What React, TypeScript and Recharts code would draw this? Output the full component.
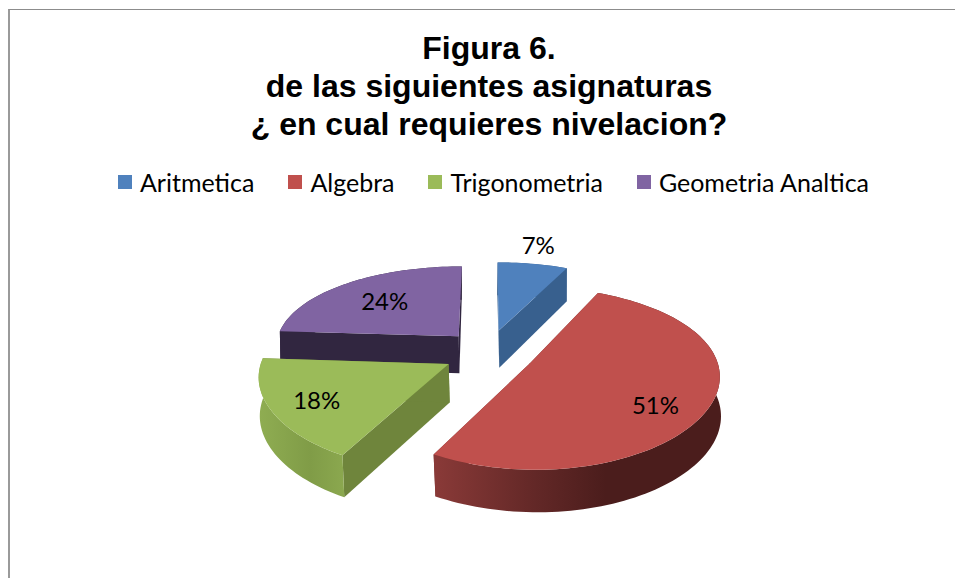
import React from "react";
import { PieChart, Pie, Cell } from "recharts";

const categories = ["Aritmetica", "Algebra", "Trigonometria", "Geometria Analtica"];
const values = [7, 51, 18, 24];
const topColors = ["#4F81BD", "#C0504D", "#9BBB59", "#8064A2"];
const wallColors = ["#38608E", "#7A3230", "#6F853C", "#312640"];
const titleLines = ["Figura 6.", "de las siguientes asignaturas", "¿ en cual requieres nivelacion?"];

const chartData = categories.map((name, i) => ({ name, value: values[i] }));

// 3D look of the pie: explosion and perspective, in units of the pie radius
const EXPLODE_X = 0.245;
const EXPLODE_Y = 0.27;
const PX = 0.12;
const PY = 0.16;
const BY = 85.7;
const DEPTH = 38;
const DEPTH_K = 4;
// fine placement of the data labels relative to their slice, in px
const labelNudge = [
  [-2, -5],
  [2, 11],
  [-10, 4],
  [6, 2],
];

type P = [number, number];

// project a point of a slice (angle clockwise from top, r in 0..1) onto the screen
function project(cx: number, cy: number, R: number, mid: number, theta: number, r: number, lower: boolean): P {
  const X = EXPLODE_X * Math.sin(mid) + Math.sin(theta) * r;
  const Y = EXPLODE_Y * Math.cos(mid) + Math.cos(theta) * r;
  const x = cx + (R * X) / (1 + PX * Y);
  const y = cy - (BY * Y) / (1 + PY * Y);
  return lower ? [x + (1 - Y) * 0.9, y + DEPTH - DEPTH_K * Y] : [x, y];
}

const rad = (a: number) => ((90 - a) * Math.PI) / 180;
const path = (pts: P[]) => "M" + pts.map((p) => `${p[0].toFixed(2)},${p[1].toFixed(2)}`).join("L") + "Z";

function Slice3D(props: any) {
  const { cx, cy, outerRadius, startAngle, endAngle, midAngle, name } = props;
  const idx = categories.indexOf(name);
  const mid = rad(midAngle);
  const t0 = rad(startAngle);
  const t1 = rad(endAngle);
  const steps = Math.max(4, Math.round(Math.abs(t1 - t0) / 0.03));
  const arc: number[] = [];
  for (let i = 0; i <= steps; i++) arc.push(t0 + ((t1 - t0) * i) / steps);
  const upper = arc.map((t) => project(cx, cy, outerRadius, mid, t, 1, false));
  const lower = arc.map((t) => project(cx, cy, outerRadius, mid, t, 1, true));
  const apex = project(cx, cy, outerRadius, mid, 0, 0, false);
  const apexLow = project(cx, cy, outerRadius, mid, 0, 0, true);
  const wall = wallColors[idx];
  return (
    <g>
      <path d={path([apex, upper[0], lower[0], apexLow])} fill={wall} />
      <path d={path([apex, upper[steps], lower[steps], apexLow])} fill={wall} />
      <path d={path([...upper, ...lower.slice().reverse()])} fill={`url(#side${idx})`} />
      <path d={path([apex, ...upper])} fill={topColors[idx]} />
    </g>
  );
}

const ShapeBack = (props: any) => (props.name === categories[3] ? <Slice3D {...props} /> : <g />);
const ShapeFront = (props: any) => (props.name !== categories[3] ? <Slice3D {...props} /> : <g />);

function SliceLabel(props: any) {
  const { cx, cy, midAngle, outerRadius, percent, name } = props;
  const mid = rad(midAngle);
  const [x, y] = project(cx, cy, outerRadius, mid, mid, percent < 0.1 ? 1.25 : 0.7, false);
  const [dx, dy] = labelNudge[categories.indexOf(name)] || [0, 0];
  return (
    <text x={x + dx} y={y + dy} textAnchor="middle" dominantBaseline="central" fontFamily="Lato" fontSize={24} fill="#000">
      {`${Math.round(percent * 100)}%`}
    </text>
  );
}

function LegendRow() {
  return (
    <div style={{ position: "absolute", top: 168, left: 0, width: 987, display: "flex", justifyContent: "center", gap: 34, fontFamily: "Lato", fontSize: 25, lineHeight: "28px", color: "#000", whiteSpace: "nowrap" }}>
      {categories.map((name, i) => (
        <div key={name} style={{ display: "flex", alignItems: "center" }}>
          <span style={{ width: 14, height: 14, background: topColors[i], marginRight: 8, display: "inline-block" }} />
          <span>{name}</span>
        </div>
      ))}
    </div>
  );
}

export default function App() {
  return (
    <div style={{ position: "absolute", left: 0, top: 0, width: 955, height: 578, background: "#fff", overflow: "hidden" }}>
      <div style={{ position: "absolute", left: 8, top: 9, width: 947, height: 569, borderTop: "1px solid #8c8c8c", borderLeft: "2px solid #9a9a9a", boxSizing: "border-box" }} />
      <PieChart width={955} height={578} style={{ position: "absolute", left: 0, top: 0 }} margin={{ top: 0, left: 0, right: 0, bottom: 0 }}>
        <defs>
          <linearGradient id="side0" x1="0" x2="1" y1="0" y2="0">
            <stop offset="0" stopColor="#38608E" />
            <stop offset="1" stopColor="#38608E" />
          </linearGradient>
          <linearGradient id="side1" x1="0" x2="1" y1="0" y2="0">
            <stop offset="0" stopColor="#8A3A38" />
            <stop offset="0.35" stopColor="#632827" />
            <stop offset="0.6" stopColor="#4B1D1C" />
            <stop offset="1" stopColor="#4B1D1C" />
          </linearGradient>
          <linearGradient id="side2" x1="0" x2="1" y1="0" y2="0">
            <stop offset="0" stopColor="#8FAD52" />
            <stop offset="0.6" stopColor="#809C47" />
            <stop offset="1" stopColor="#8BA84F" />
          </linearGradient>
          <linearGradient id="side3" x1="0" x2="1" y1="0" y2="0">
            <stop offset="0" stopColor="#312640" />
            <stop offset="1" stopColor="#312640" />
          </linearGradient>
        </defs>
        {titleLines.map((line, i) => (
          <text key={line} x={489} y={59 + i * 38} textAnchor="middle" fontFamily="Liberation Sans" fontWeight="bold" fontSize={32} fill="#000">
            {line}
          </text>
        ))}
        <Pie
          data={chartData}
          dataKey="value"
          nameKey="name"
          cx={489}
          cy={352.5}
          outerRadius={185}
          startAngle={90}
          endAngle={-270}
          stroke="none"
          legendType="none"
          shape={ShapeBack}
          isAnimationActive={false}
        />
        <Pie
          data={chartData}
          dataKey="value"
          nameKey="name"
          cx={489}
          cy={352.5}
          outerRadius={185}
          startAngle={90}
          endAngle={-270}
          stroke="none"
          legendType="none"
          shape={ShapeFront}
          label={SliceLabel}
          labelLine={false}
          isAnimationActive={false}
        >
          {chartData.map((d, i) => (
            <Cell key={d.name} fill={topColors[i]} />
          ))}
        </Pie>
      </PieChart>
      <LegendRow />
    </div>
  );
}
